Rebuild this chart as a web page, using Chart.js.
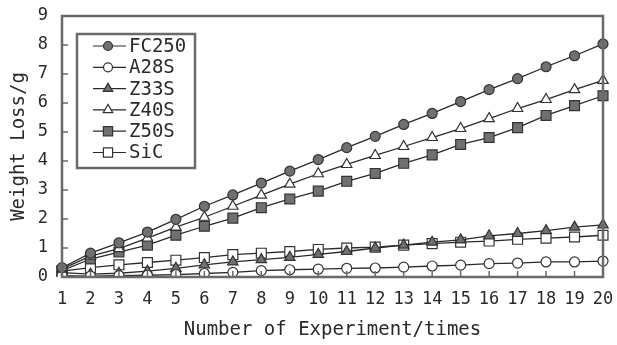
<!DOCTYPE html>
<html>
<head>
<meta charset="UTF-8">
<script src="https://cdn.jsdelivr.net/npm/chart.js@4/dist/chart.umd.min.js"></script>
<style>
  html, body { margin: 0; padding: 0; background: #fff; }
  .box { position: relative; width: 617px; height: 345px; }
</style>
</head>
<body>
<div class="box"><canvas id="c" width="617" height="345"></canvas></div>
<script>
// Werte (Gewichtsverlust in g pro Versuch)
const runs   = ['1','2','3','4','5','6','7','8','9','10','11','12','13','14','15','16','17','18','19','20'];
const fc250  = [0.32, 0.82, 1.18, 1.55, 1.99, 2.44, 2.83, 3.24, 3.65, 4.05, 4.46, 4.85, 5.26, 5.64, 6.05, 6.46, 6.84, 7.25, 7.63, 8.04];
const a28s   = [0.05, 0.03, 0.05, 0.06, 0.08, 0.12, 0.16, 0.22, 0.25, 0.27, 0.30, 0.31, 0.34, 0.38, 0.41, 0.46, 0.48, 0.52, 0.52, 0.55];
const z33s   = [0.15, 0.10, 0.13, 0.20, 0.30, 0.42, 0.52, 0.60, 0.68, 0.78, 0.88, 1.00, 1.10, 1.20, 1.28, 1.42, 1.50, 1.60, 1.72, 1.80];
const z40s   = [0.28, 0.72, 0.98, 1.34, 1.72, 2.06, 2.44, 2.82, 3.20, 3.56, 3.88, 4.19, 4.50, 4.81, 5.12, 5.46, 5.81, 6.12, 6.46, 6.78];
const z50s   = [0.22, 0.62, 0.86, 1.10, 1.44, 1.75, 2.03, 2.39, 2.69, 2.96, 3.30, 3.57, 3.92, 4.21, 4.57, 4.81, 5.15, 5.57, 5.91, 6.25];
const sic    = [0.20, 0.32, 0.42, 0.50, 0.58, 0.67, 0.77, 0.82, 0.88, 0.95, 1.00, 1.03, 1.10, 1.15, 1.20, 1.24, 1.30, 1.34, 1.38, 1.44];
const yTicks = [0, 1, 2, 3, 4, 5, 6, 7, 8, 9];

const FONT = "'DejaVu Sans Mono', monospace";
const INK  = '#2a2a2a';
const AXIS = '#6a6a6a';
const FILL = '#707070';

// Radius je Markerform, damit alle etwa 10 px gross wirken
const RADIUS = { circle: 5, triangle: 6, rect: 7 };

const series = [
  { label: 'FC250', data: fc250, style: 'circle',   fill: FILL },
  { label: 'A28S',  data: a28s,  style: 'circle',   fill: '#fff' },
  { label: 'Z33S',  data: z33s,  style: 'triangle', fill: FILL },
  { label: 'Z40S',  data: z40s,  style: 'triangle', fill: '#fff' },
  { label: 'Z50S',  data: z50s,  style: 'rect',     fill: FILL },
  { label: 'SiC',   data: sic,   style: 'rect',     fill: '#fff' },
];

// Rahmen, nach innen zeigende Ticks und Legende im Plotbereich
const framePlugin = {
  id: 'frame',
  afterDraw(chart) {
    const { ctx, chartArea: a, scales: { x, y } } = chart;
    ctx.save();
    ctx.strokeStyle = AXIS;
    ctx.lineWidth = 2.5;
    ctx.strokeRect(a.left, a.top, a.right - a.left, a.bottom - a.top);
    ctx.lineWidth = 1.5;
    ctx.beginPath();
    yTicks.slice(1, -1).forEach(v => {
      const py = y.getPixelForValue(v);
      ctx.moveTo(a.left, py); ctx.lineTo(a.left + 6, py);
    });
    runs.slice(1, -1).forEach((_, i) => {
      const px = x.getPixelForValue(i + 1);
      ctx.moveTo(px, a.bottom); ctx.lineTo(px, a.bottom - 6);
    });
    ctx.stroke();

    // Legende
    const lx = 77, ly = 34, lw = 118, lh = 134;
    ctx.fillStyle = '#fff';
    ctx.fillRect(lx, ly, lw, lh);
    ctx.strokeStyle = AXIS;
    ctx.lineWidth = 2.5;
    ctx.strokeRect(lx, ly, lw, lh);
    ctx.font = '19px ' + FONT;
    ctx.textBaseline = 'middle';
    series.forEach((s, i) => {
      const yy = 46 + i * 21.3;
      ctx.strokeStyle = INK;
      ctx.lineWidth = 1.2;
      ctx.beginPath();
      ctx.moveTo(93, yy); ctx.lineTo(126, yy);
      ctx.stroke();
      ctx.fillStyle = s.fill;
      ctx.strokeStyle = '#333';
      Chart.helpers.drawPoint(ctx, { pointStyle: s.style, radius: RADIUS[s.style] - 0.5, rotation: 0, borderWidth: 1.2 }, 108, yy);
      ctx.fillStyle = INK;
      ctx.fillText(s.label, 129, yy + 1);
    });
    ctx.restore();
  }
};

// Abstand der Beschriftung ueber unsichtbare Tick-Striche statt ticks.padding,
// sonst reserviert Chart.js zusaetzlichen Rand oben und rechts
const hiddenTicks = len => ({ display: true, drawOnChartArea: false, drawTicks: true, tickLength: len, color: 'rgba(0,0,0,0)' });

new Chart(document.getElementById('c'), {
  type: 'line',
  plugins: [framePlugin],
  data: {
    labels: runs,
    datasets: series.map(s => ({
      label: s.label,
      data: s.data,
      borderColor: INK,
      borderWidth: 1.3,
      pointStyle: s.style,
      pointRadius: RADIUS[s.style],
      pointBackgroundColor: s.fill,
      pointBorderColor: '#333',
      pointBorderWidth: 1.2,
      tension: 0,
    }))
  },
  options: {
    responsive: false,
    animation: false,
    layout: { padding: { left: 8, right: 14, top: 16, bottom: 0 } },
    plugins: { legend: { display: false }, tooltip: { enabled: false } },
    scales: {
      x: {
        offset: false,
        grid: hiddenTicks(12),
        border: { display: false },
        ticks: { color: INK, font: { family: FONT, size: 17 }, padding: 0, maxRotation: 0, autoSkip: false },
        title: { display: true, text: 'Number of Experiment/times', color: INK,
                 font: { family: FONT, size: 19 }, padding: { top: 2, bottom: 4 } },
        afterFit: s => { s.height = 68; }
      },
      y: {
        min: 0, max: 9,
        afterBuildTicks: s => { s.ticks = yTicks.map(v => ({ value: v })); },
        grid: hiddenTicks(14),
        border: { display: false },
        ticks: { color: INK, font: { family: FONT, size: 17 }, padding: 0 },
        title: { display: true, text: 'Weight Loss/g', color: INK,
                 font: { family: FONT, size: 19 }, padding: 0 },
        afterFit: s => { s.width = 54; }
      }
    }
  }
});
</script>
</body>
</html>
